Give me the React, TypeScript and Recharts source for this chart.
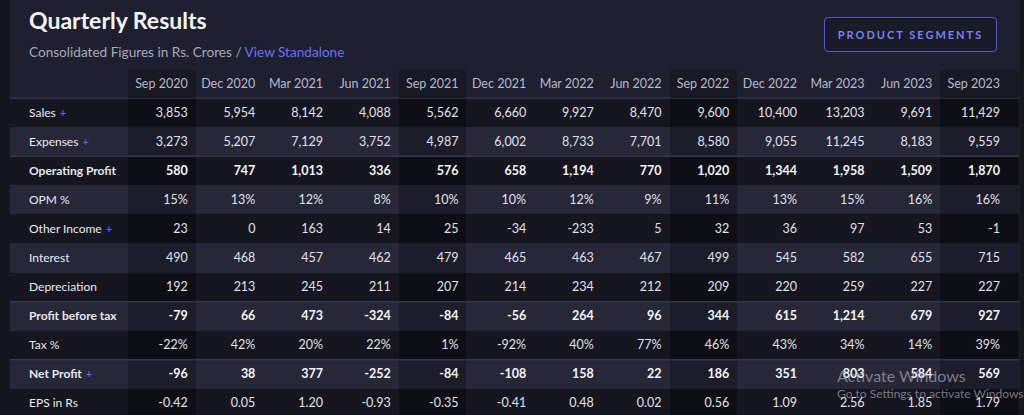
import { ScatterChart, Scatter, XAxis, YAxis } from 'recharts';

const QUARTERS = [
  'Sep 2020', 'Dec 2020', 'Mar 2021', 'Jun 2021', 'Sep 2021', 'Dec 2021', 'Mar 2022',
  'Jun 2022', 'Sep 2022', 'Dec 2022', 'Mar 2023', 'Jun 2023', 'Sep 2023',
];

const SALES = [3853, 5954, 8142, 4088, 5562, 6660, 9927, 8470, 9600, 10400, 13203, 9691, 11429];
const EXPENSES = [3273, 5207, 7129, 3752, 4987, 6002, 8733, 7701, 8580, 9055, 11245, 8183, 9559];
const OPERATING_PROFIT = [580, 747, 1013, 336, 576, 658, 1194, 770, 1020, 1344, 1958, 1509, 1870];
const OPM_PCT = [15, 13, 12, 8, 10, 10, 12, 9, 11, 13, 15, 16, 16];
const OTHER_INCOME = [23, 0, 163, 14, 25, -34, -233, 5, 32, 36, 97, 53, -1];
const INTEREST = [490, 468, 457, 462, 479, 465, 463, 467, 499, 545, 582, 655, 715];
const DEPRECIATION = [192, 213, 245, 211, 207, 214, 234, 212, 209, 220, 259, 227, 227];
const PROFIT_BEFORE_TAX = [-79, 66, 473, -324, -84, -56, 264, 96, 344, 615, 1214, 679, 927];
const TAX_PCT = [-22, 42, 20, 22, 1, -92, 40, 77, 46, 43, 34, 14, 39];
const NET_PROFIT = [-96, 38, 377, -252, -84, -108, 158, 22, 186, 351, 803, 584, 569];
const EPS = [-0.42, 0.05, 1.2, -0.93, -0.35, -0.41, 0.48, 0.02, 0.56, 1.09, 2.56, 1.85, 1.79];

type Fmt = 'num' | 'pct' | 'eps';

const ROWS: { label: string; values: number[]; fmt: Fmt; bold?: boolean; plus?: boolean; lineAbove?: boolean }[] = [
  { label: 'Sales', values: SALES, fmt: 'num', plus: true, lineAbove: true },
  { label: 'Expenses', values: EXPENSES, fmt: 'num', plus: true },
  { label: 'Operating Profit', values: OPERATING_PROFIT, fmt: 'num', bold: true, lineAbove: true },
  { label: 'OPM %', values: OPM_PCT, fmt: 'pct' },
  { label: 'Other Income', values: OTHER_INCOME, fmt: 'num', plus: true },
  { label: 'Interest', values: INTEREST, fmt: 'num' },
  { label: 'Depreciation', values: DEPRECIATION, fmt: 'num' },
  { label: 'Profit before tax', values: PROFIT_BEFORE_TAX, fmt: 'num', bold: true, lineAbove: true },
  { label: 'Tax %', values: TAX_PCT, fmt: 'pct' },
  { label: 'Net Profit', values: NET_PROFIT, fmt: 'num', bold: true, plus: true, lineAbove: true },
  { label: 'EPS in Rs', values: EPS, fmt: 'eps' },
];

// layout
const FONT = "Lato, 'Segoe UI', sans-serif";
const CHART_W = 1024;
const CHART_H = 420;
const TABLE_LEFT = 10;
const LABEL_W = 118;
const HEADER_TOP = 70;
const HEADER_H = 28;
const MARGIN_RIGHT = 16;
const MARGIN_BOTTOM = 2;
const PLOT_W = CHART_W - TABLE_LEFT - LABEL_W - MARGIN_RIGHT;
const PLOT_H = CHART_H - HEADER_TOP - HEADER_H - MARGIN_BOTTOM;
const COL_W = PLOT_W / QUARTERS.length;
const ROW_H = PLOT_H / ROWS.length;
const LAST_EXTRA = 11;

const C = {
  strip: '#16171e',
  panel: '#1e2030',
  rowLight: '#262838',
  rowDark: '#15161f',
  sepLight: '#1c1d2a',
  sepDark: '#0e0f16',
  sepHeader: '#181925',
  line: '#35374a',
  label: '#e8e9f0',
  value: '#e0e1e8',
  header: '#b6bacb',
  plus: '#5a5ef5',
};

function fmtValue(v: number, fmt: Fmt) {
  if (fmt === 'pct') return `${v}%`;
  if (fmt === 'eps') return v.toFixed(2);
  return v.toLocaleString('en-US');
}

const cells = ROWS.flatMap((row, r) =>
  QUARTERS.map((q, c) => ({
    quarter: q,
    row: row.label,
    rowIndex: r,
    colIndex: c,
    text: fmtValue(row.values[c], row.fmt),
  }))
);

const isSepCol = (q: string) => q.startsWith('Sep');

function HeaderTick(props: any) {
  const { x, payload } = props;
  const q = payload.value as string;
  const last = q === QUARTERS[QUARTERS.length - 1];
  const w = COL_W + (last ? LAST_EXTRA : 0);
  const left = x - COL_W / 2;
  return (
    <g>
      {isSepCol(q) && (
        <rect x={left} y={HEADER_TOP} width={w} height={HEADER_H} fill={C.sepHeader} shapeRendering="crispEdges" />
      )}
      <text x={x + COL_W / 2 - 8} y={HEADER_TOP + 18} textAnchor="end" fill={C.header} fontSize={12.5} fontFamily={FONT}>
        {q}
      </text>
    </g>
  );
}

function RowTick(props: any) {
  const { y, payload } = props;
  const r = ROWS.findIndex((row) => row.label === payload.value);
  const row = ROWS[r];
  const top = y - ROW_H / 2;
  return (
    <g>
      <rect x={TABLE_LEFT} y={top} width={LABEL_W} height={ROW_H} fill={r % 2 === 1 ? C.rowLight : C.rowDark} shapeRendering="crispEdges" />
      {row.lineAbove && (
        <line x1={TABLE_LEFT} x2={TABLE_LEFT + LABEL_W} y1={top} y2={top} stroke={C.line} strokeWidth={1.5} />
      )}
      <text x={29} y={y + 4} fill={C.label} fontSize={12} fontWeight={row.bold ? 700 : 400} fontFamily={FONT}>
        <tspan>{row.label}</tspan>
        {row.plus && (
          <tspan dx={4} fill={C.plus} fontSize={11} fontWeight={700}>+</tspan>
        )}
      </text>
    </g>
  );
}

function renderCell(props: any) {
  const { cx, cy, payload } = props;
  const row = ROWS[payload.rowIndex];
  const light = payload.rowIndex % 2 === 1;
  const sep = isSepCol(payload.quarter);
  const last = payload.colIndex === QUARTERS.length - 1;
  const fill = sep ? (light ? C.sepLight : C.sepDark) : light ? C.rowLight : C.rowDark;
  const left = cx - COL_W / 2;
  const top = cy - ROW_H / 2;
  const w = COL_W + (last ? LAST_EXTRA : 0);
  return (
    <g>
      <rect x={left} y={top} width={w} height={ROW_H} fill={fill} shapeRendering="crispEdges" />
      {row.lineAbove && <line x1={left} x2={left + w} y1={top} y2={top} stroke={C.line} strokeWidth={1.5} />}
      <text
        x={cx + COL_W / 2 - 8}
        y={cy + 4}
        textAnchor="end"
        fill={row.bold ? '#f4f4f8' : C.value}
        fontSize={12.5}
        fontWeight={row.bold ? 700 : 400}
        fontFamily={FONT}
      >
        {payload.text}
      </text>
    </g>
  );
}

export default function App() {
  return (
    <div
      style={{
        position: 'fixed',
        left: 0,
        top: 0,
        width: 1024,
        height: 415,
        overflow: 'hidden',
        background: C.strip,
        fontFamily: FONT,
      }}
    >
      <div style={{ position: 'absolute', left: TABLE_LEFT, top: 0, width: 1010, height: 415, background: C.panel }} />
      <div style={{ position: 'absolute', left: 29, top: 8, fontSize: 23, lineHeight: '24px', fontWeight: 700, color: '#f4f4f8' }}>
        Quarterly Results
      </div>
      <div style={{ position: 'absolute', left: 29, top: 45, fontSize: 13.6, lineHeight: '14px', color: '#a5a8b8', whiteSpace: 'nowrap' }}>
        Consolidated Figures in Rs. Crores / <span style={{ color: '#6b6ff7' }}>View Standalone</span>
      </div>
      <div
        style={{
          position: 'absolute',
          left: 824,
          top: 17,
          width: 173,
          height: 35,
          boxSizing: 'border-box',
          border: '1px solid #5559c0',
          borderRadius: 4,
          background: '#1a1b29',
          color: '#7d81f2',
          fontSize: 11,
          fontWeight: 700,
          letterSpacing: 2,
          display: 'flex',
          alignItems: 'center',
          justifyContent: 'center',
        }}
      >
        PRODUCT SEGMENTS
      </div>
      <div style={{ position: 'absolute', left: 0, top: 0 }}>
        <ScatterChart
          width={CHART_W}
          height={CHART_H}
          margin={{ top: HEADER_TOP, right: MARGIN_RIGHT, bottom: MARGIN_BOTTOM, left: TABLE_LEFT }}
        >
          <XAxis
            xAxisId={0}
            type="category"
            dataKey="quarter"
            orientation="top"
            height={HEADER_H}
            allowDuplicatedCategory={false}
            interval={0}
            axisLine={false}
            tickLine={false}
            tick={<HeaderTick />}
          />
          <YAxis
            yAxisId={0}
            type="category"
            dataKey="row"
            width={LABEL_W}
            reversed
            allowDuplicatedCategory={false}
            interval={0}
            axisLine={false}
            tickLine={false}
            tick={<RowTick />}
          />
          <Scatter data={cells} shape={renderCell} isAnimationActive={false} />
        </ScatterChart>
      </div>
      <div style={{ position: 'absolute', left: 837, top: 366, fontSize: 16, color: 'rgba(190,190,200,0.6)', whiteSpace: 'nowrap', pointerEvents: 'none' }}>
        Activate Windows
      </div>
      <div style={{ position: 'absolute', left: 837, top: 386, fontSize: 12, color: 'rgba(190,190,200,0.6)', whiteSpace: 'nowrap', pointerEvents: 'none' }}>
        Go to Settings to activate Windows.
      </div>
    </div>
  );
}
